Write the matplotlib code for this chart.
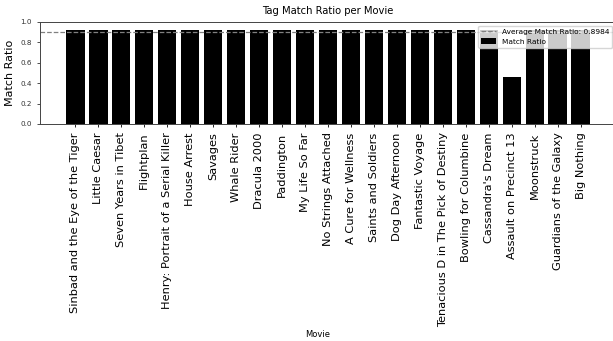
import matplotlib
matplotlib.use("Agg")
import matplotlib.pyplot as plt

movies = [
    "Sinbad and the Eye of the Tiger", "Little Caesar", "Seven Years in Tibet",
    "Flightplan", "Henry: Portrait of a Serial Killer", "House Arrest", "Savages",
    "Whale Rider", "Dracula 2000", "Paddington", "My Life So Far",
    "No Strings Attached", "A Cure for Wellness", "Saints and Soldiers",
    "Dog Day Afternoon", "Fantastic Voyage", "Tenacious D in The Pick of Destiny",
    "Bowling for Columbine", "Cassandra's Dream", "Assault on Precinct 13",
    "Moonstruck", "Guardians of the Galaxy", "Big Nothing",
]
match_ratio = [0.918] * 19 + [0.462] + [0.918] * 3
average_ratio = 0.8984

fig = plt.figure(figsize=(6.13, 3.41), dpi=100)
W, H = 613, 341
ax = fig.add_axes([40 / W, 1 - 124 / H, (616 - 40) / W, (124 - 22) / H])

ax.bar(range(len(movies)), match_ratio, color="black", label="Match Ratio")
ax.axhline(average_ratio, color="gray", linestyle="--", linewidth=0.9,
           label=f"Average Match Ratio: {average_ratio:.4f}")
ax.set_ylim(0, 1.0)
ax.set_xticks(range(len(movies)))
ax.set_xticklabels(movies, rotation=90, fontsize=8.2)
ax.tick_params(axis="y", labelsize=5.2, length=2.5, width=0.6, colors="#333333")
ax.tick_params(axis="x", length=2.5, width=0.6)
for s in ax.spines.values():
    s.set_linewidth(0.7)
    s.set_color("#444444")
ax.set_title("Tag Match Ratio per Movie", fontsize=7.2)
ax.set_ylabel("Match Ratio", fontsize=8)
ax.set_xlabel("Movie", fontsize=6)
ax.xaxis.set_label_coords((318 - 40) / (616 - 40), -(330 - 124) / (124 - 22))
ax.legend(loc="upper right", fontsize=5.3, framealpha=0.8)

fig.savefig("out.png", dpi=100)
